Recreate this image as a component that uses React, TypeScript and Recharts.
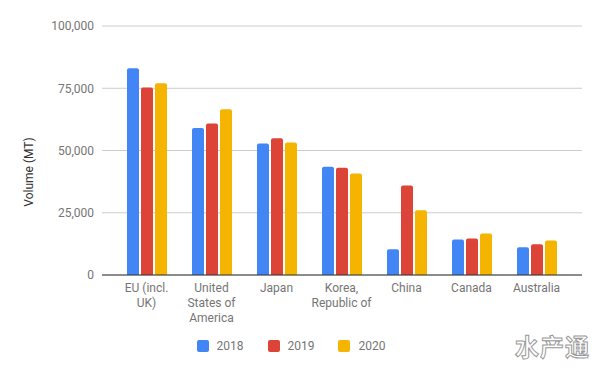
import { BarChart, Bar, XAxis, YAxis, CartesianGrid, Legend, Label } from 'recharts'

const categories = ['EU (incl. UK)', 'United States of America', 'Japan', 'Korea, Republic of', 'China', 'Canada', 'Australia']
const tickLines = [
    ['EU (incl.', 'UK)'],
    ['United', 'States of', 'America'],
    ['Japan'],
    ['Korea,', 'Republic of'],
    ['China'],
    ['Canada'],
    ['Australia'],
]
const v2018 = [83000, 59000, 52800, 43500, 10300, 14300, 11100]
const v2019 = [75300, 60800, 54900, 43100, 35900, 14700, 12300]
const v2020 = [77000, 66600, 53200, 40800, 26000, 16700, 13900]
const yTicks = [0, 25000, 50000, 75000, 100000]

const series = [
    { key: 'y2018', name: '2018', color: '#4285F4' },
    { key: 'y2019', name: '2019', color: '#DB4437' },
    { key: 'y2020', name: '2020', color: '#F4B400' },
]

const data = categories.map((c, i) => ({ name: c, y2018: v2018[i], y2019: v2019[i], y2020: v2020[i] }))

const font = 'Roboto, "Noto Sans", sans-serif'

const CategoryTick = (props: any) => {
    const { x, y, payload } = props
    const idx = categories.indexOf(payload.value)
    const lines = idx >= 0 ? tickLines[idx] : [payload.value]
    return (
        <text x={x} y={y} textAnchor="middle" fill="#757575" fontSize={12} fontFamily={font}>
            {lines.map((l, i) => (
                <tspan key={i} x={x} dy={i === 0 ? 9 : 15}>{l}</tspan>
            ))}
        </text>
    )
}

const LegendContent = () => (
    <div style={{ display: 'flex', justifyContent: 'center', fontFamily: font, fontSize: 12, color: '#757575' }}>
        {series.map(s => (
            <div key={s.key} style={{ display: 'flex', alignItems: 'center', margin: '0 12px' }}>
                <span style={{ width: 12, height: 12, borderRadius: 2, background: s.color, marginRight: 8, display: 'inline-block' }} />
                <span>{s.name}</span>
            </div>
        ))}
    </div>
)

export default function App() {
    return (
        <div style={{ position: 'absolute', left: 0, top: 0, width: 600, height: 371, background: '#fff' }}>
            <BarChart width={600} height={371} data={data} margin={{ top: 26, right: 18, left: 0, bottom: 21 }} barSize={12} barGap={2}>
                <CartesianGrid vertical={false} stroke="#cccccc" />
                <XAxis dataKey="name" tick={<CategoryTick />} tickLine={false} axisLine={{ stroke: '#333333' }} interval={0} height={61} padding={{ left: 12, right: 13 }} />
                <YAxis width={102} domain={[0, 100000]} ticks={yTicks} tickLine={false} axisLine={false}
                    tick={{ fill: '#757575', fontSize: 12, fontFamily: font }}
                    tickFormatter={(v: number) => v.toLocaleString('en-US')}>
                    <Label content={() => (
                        <text x={33} y={172} transform="rotate(-90 33 172)" textAnchor="middle" fill="#333333" fontSize={12} fontFamily={font}>Volume (MT)</text>
                    )} />
                </YAxis>
                <Legend content={<LegendContent />} verticalAlign="bottom" wrapperStyle={{ bottom: 18 }} />
                {series.map(s => (
                    <Bar key={s.key} dataKey={s.key} name={s.name} fill={s.color} radius={[2, 2, 0, 0]} isAnimationActive={false} />
                ))}
            </BarChart>
            <div style={{ position: 'absolute', left: 515, top: 328, fontFamily: '"Noto Sans CJK SC", sans-serif', fontSize: 24, fontWeight: 700, color: '#ffffff', WebkitTextStroke: '1px #999', letterSpacing: 1 }}>水产通</div>
        </div>
    )
}
